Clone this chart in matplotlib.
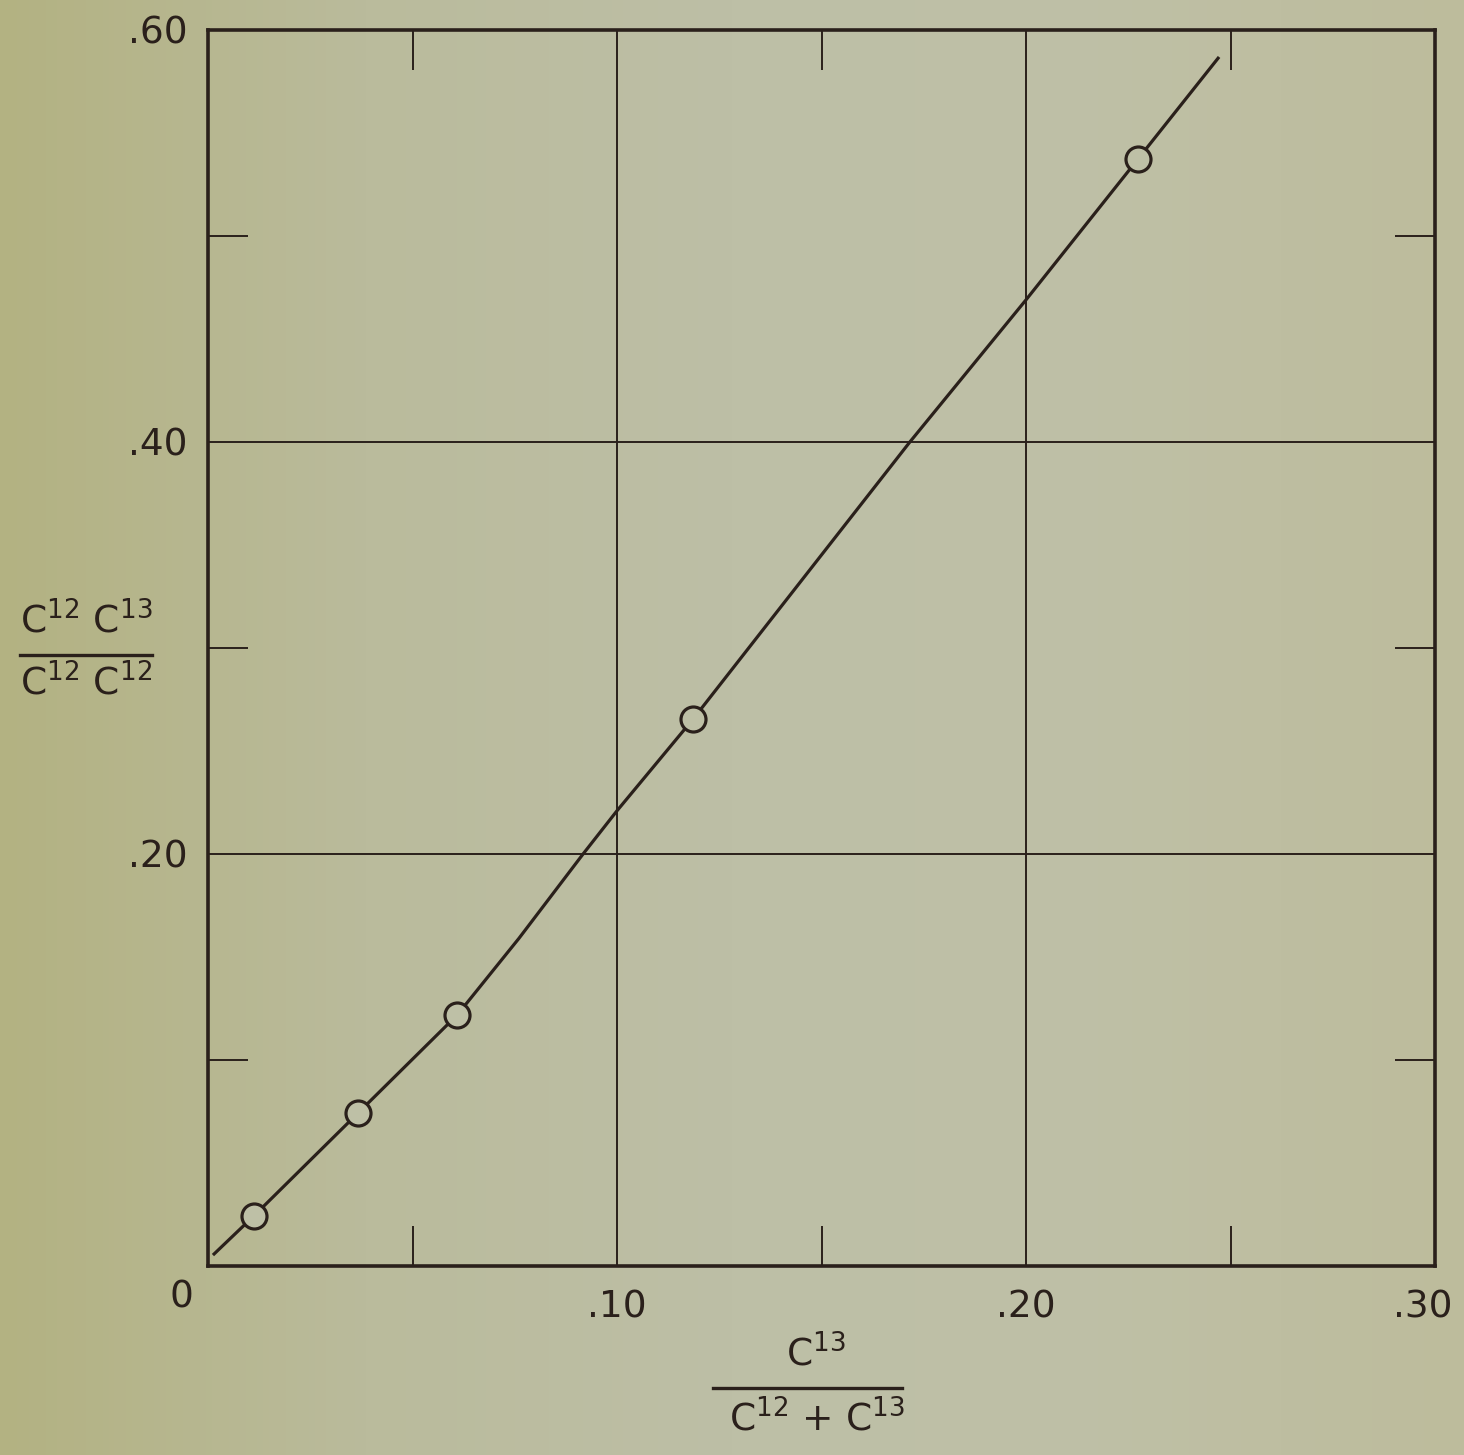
import numpy as np
import matplotlib
matplotlib.use("Agg")
import matplotlib.pyplot as plt
from matplotlib.colors import LinearSegmentedColormap
from matplotlib.lines import Line2D

# measured points (circles)
pts_x = [0.0112, 0.0367, 0.0609, 0.1186, 0.2274]
pts_y = [0.0243, 0.0743, 0.1218, 0.2655, 0.5374]

# drawn curve
curve_x = [0.0012, 0.0112, 0.0367, 0.0609, 0.0760, 0.0917, 0.1000, 0.1186, 0.1716, 0.2000, 0.2274, 0.2472]
curve_y = [0.0053, 0.0243, 0.0743, 0.1218, 0.1590, 0.2000, 0.2210, 0.2655, 0.4000, 0.4690, 0.5374, 0.5869]

x_major = [0, 0.10, 0.20, 0.30]
x_major_labels = ["", ".10", ".20", ".30"]
x_minor = [0.05, 0.15, 0.25]
y_major = [0, 0.20, 0.40, 0.60]
y_major_labels = ["", ".20", ".40", ".60"]
y_minor = [0.10, 0.30, 0.50]

ink = "#2a201b"
plt.rcParams["font.family"] = ["DejaVu Sans"]
plt.rcParams["mathtext.default"] = "regular"

fig = plt.figure(figsize=(14.64, 14.55), dpi=100)

# paper background with slight tint toward the left edge
bg = fig.add_axes([0, 0, 1, 1], zorder=-5)
cmap = LinearSegmentedColormap.from_list(
    "paper", ["#b3b282", "#babb9c", "#bdbfa6", "#bfc0a6", "#bdbc9c"])
bg.imshow(np.linspace(0, 1, 256).reshape(1, -1), cmap=cmap, aspect="auto",
          extent=[0, 1, 0, 1])
bg.set_axis_off()

ax = fig.add_axes([0.1421, 0.1299, 0.8381, 0.8495])
ax.set_facecolor("none")
ax.set_xlim(0, 0.30)
ax.set_ylim(0, 0.60)

ax.plot(curve_x, curve_y, color=ink, lw=2.3, solid_capstyle="butt", zorder=3)
ax.plot(pts_x, pts_y, "o", ms=18, mfc="#bec0a6", mec=ink, mew=2.3, zorder=4)

ax.set_xticks(x_major)
ax.set_xticklabels(x_major_labels)
ax.set_yticks(y_major)
ax.set_yticklabels(y_major_labels)
ax.set_xticks(x_minor, minor=True)
ax.set_yticks(y_minor, minor=True)

ax.tick_params(which="major", length=0, labelsize=27, labelcolor=ink)
ax.tick_params(axis="x", which="major", pad=17)
ax.tick_params(axis="y", which="major", pad=15)
ax.tick_params(which="minor", direction="in", length=29, width=1.4, color=ink,
               top=True, right=True)
ax.grid(True, which="major", color=ink, lw=1.4)

# nudge ".30" inward so it stays on the page
lab = ax.get_xticklabels()[-1]
lab.set_transform(lab.get_transform() + matplotlib.transforms.ScaledTranslation(-0.12, 0, fig.dpi_scale_trans))

for s in ax.spines.values():
    s.set_linewidth(2.6)
    s.set_color(ink)

ax.annotate("0", xy=(0, 0), xytext=(-27, -32), textcoords="offset pixels",
            ha="center", va="center", fontsize=27, color=ink)

# y-axis label as a fraction
fig.text(86 / 1464, 1 - 622 / 1455, r"C$^{12}$ C$^{13}$", ha="center", va="center",
         fontsize=27, color=ink)
fig.add_artist(Line2D([20 / 1464, 152 / 1464], [1 - 655 / 1455] * 2, color=ink, lw=2.4))
fig.text(86 / 1464, 1 - 684 / 1455, r"C$^{12}$ C$^{12}$", ha="center", va="center",
         fontsize=27, color=ink)

# x-axis label as a fraction
fig.text(816 / 1464, 1 - 1355 / 1455, r"C$^{13}$", ha="center", va="center",
         fontsize=27, color=ink)
fig.add_artist(Line2D([713 / 1464, 902 / 1464], [1 - 1388 / 1455] * 2, color=ink, lw=2.4))
fig.text(817 / 1464, 1 - 1420 / 1455, r"C$^{12}$ + C$^{13}$", ha="center", va="center",
         fontsize=27, color=ink)

fig.savefig("out.png", dpi=100)
